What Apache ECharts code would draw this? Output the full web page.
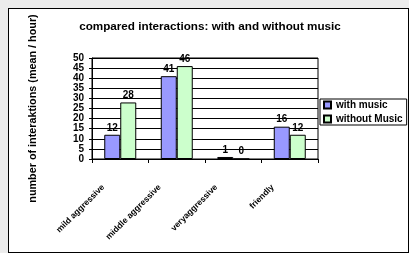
<!DOCTYPE html>
<html>
<head>
<meta charset="utf-8">
<script src="https://cdn.jsdelivr.net/npm/echarts@6/dist/echarts.min.js"></script>
<style>
html,body{margin:0;padding:0;background:#ececec;}
#frame{position:absolute;left:8px;top:8px;width:399px;height:243px;background:#fff;border:1px solid #000;}
#chart{position:absolute;left:0;top:0;width:409px;height:253px;}
</style>
</head>
<body>
<div id="frame"></div>
<div id="chart"></div>
<script>
var categories = ['mild aggressive', 'middle aggressive', 'veryaggressive', 'friendly'];
var withMusic = [12, 41, 1, 16];
var withoutMusic = [28, 46, 0, 12];
var seriesNames = ['with music', 'without Music'];
var titleText = 'compared interactions: with and without music';
var yAxisTitle = 'number of interaktions (mean / hour)';

var font = 'Liberation Sans, Arial, sans-serif';
var chart = echarts.init(document.getElementById('chart'));
var labelOpt = {
  show: true, position: 'top', distance: 2,
  color: '#000', fontWeight: 'bold', fontSize: 10, fontFamily: font
};
chart.setOption({
  backgroundColor: 'transparent',
  animation: false,
  title: {
    text: titleText, left: 205, top: 16, textAlign: 'center',
    textStyle: {fontSize: 11.7, fontWeight: 'bold', color: '#000', fontFamily: font}
  },
  legend: {
    orient: 'vertical', left: 320, top: 99, padding: [1, 4, 1, 3],
    itemWidth: 7, itemHeight: 7, itemGap: 4,
    borderColor: '#000', borderWidth: 1, backgroundColor: '#fff',
    icon: 'rect',
    textStyle: {fontSize: 10, fontWeight: 'bold', color: '#000', fontFamily: font},
    data: seriesNames
  },
  grid: {
    left: 92, right: 91, top: 58, bottom: 94,
    show: true, backgroundColor: '#fff', borderColor: '#000', borderWidth: 1
  },
  xAxis: {
    type: 'category', data: categories,
    axisLine: {lineStyle: {color: '#000', width: 1}},
    axisTick: {show: true, length: 4, lineStyle: {color: '#000'}},
    axisLabel: {
      rotate: 45, margin: 10, padding: [0, 24, 0, 0], interval: 0,
      fontSize: 8.5, fontWeight: 'bold', color: '#000', fontFamily: font
    }
  },
  yAxis: {
    type: 'value', min: 0, max: 50, interval: 5,
    name: yAxisTitle, nameLocation: 'middle', nameGap: 53, nameRotate: 90,
    nameTextStyle: {fontSize: 10.8, fontWeight: 'bold', color: '#000', fontFamily: font},
    axisLine: {show: true, lineStyle: {color: '#000', width: 1}},
    axisTick: {show: true, length: 3, lineStyle: {color: '#000'}},
    axisLabel: {margin: 8, fontSize: 10, fontWeight: 'bold', color: '#000', fontFamily: font},
    splitLine: {show: true, lineStyle: {color: '#000', width: 1}}
  },
  series: [
    {
      name: seriesNames[0], type: 'bar', data: withMusic,
      barWidth: 16, barGap: '0%',
      itemStyle: {color: '#9999ff', borderColor: '#000', borderWidth: 1},
      label: labelOpt
    },
    {
      name: seriesNames[1], type: 'bar', data: withoutMusic,
      barWidth: 16, barGap: '0%',
      itemStyle: {color: '#ccffcc', borderColor: '#000', borderWidth: 1},
      label: labelOpt
    }
  ]
});
</script>
</body>
</html>
